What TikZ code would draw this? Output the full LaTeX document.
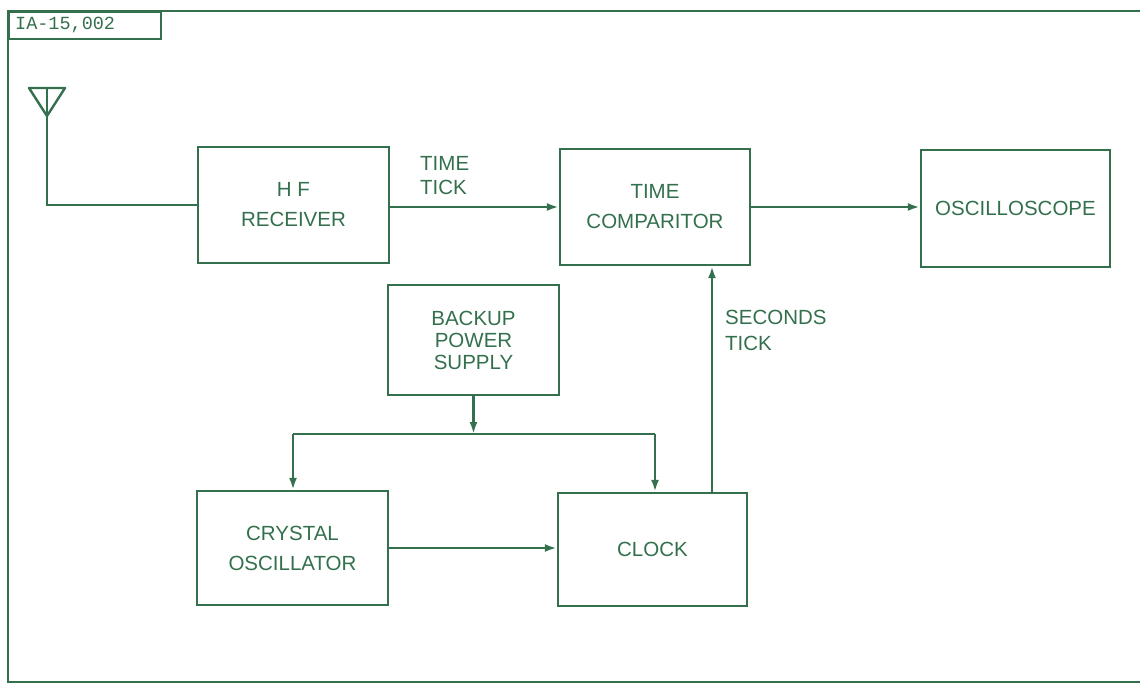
\documentclass[tikz,border=0pt]{standalone}
\usepackage{fontspec}
\setmainfont{Liberation Sans}
\newfontfamily\labelfont{Liberation Mono}
\usetikzlibrary{arrows.meta,calc}
\definecolor{ink}{RGB}{52,112,78}
\begin{document}
\begin{tikzpicture}[x=1pt,y=-1pt,
  line width=2.4pt, draw=ink, text=ink,
  blk/.style={draw=ink, line width=2.4pt, align=center, inner sep=0pt,
    font=\fontsize{20.5}{30}\selectfont},
  arr/.style={-{Latex[length=12pt,width=8pt]}, draw=ink, line width=2.4pt},
  lbl/.style={align=left, anchor=north west, inner sep=0pt, text=ink,
    font=\fontsize{20.5}{24}\selectfont}]
\useasboundingbox (0,0) rectangle (1140,684);
% frame
\draw[ink] (1140,11) -- (8,11) -- (8,682) -- (1140,682);
\node[draw=ink, line width=1.8pt, minimum width=152pt, minimum height=27pt, anchor=north west,
  inner sep=0pt, text=ink] (tag) at (8,11) {};
\node[anchor=west, inner sep=0pt, text=ink, font=\labelfont\fontsize{18.5}{20}\selectfont] (tagtext) at (14,25) {IA-15,002};
% boxes
\node[blk, minimum width=191pt, minimum height=116pt] (hf) at (293.5,205) {H F\\RECEIVER};
\node[blk, minimum width=190pt, minimum height=116pt] (tc) at (655,207) {TIME\\COMPARITOR};
\node[blk, minimum width=189pt, minimum height=117pt] (osc) at (1015.5,208.5) {OSCILLOSCOPE};
\node[blk, minimum width=171pt, minimum height=110pt, font=\fontsize{20.5}{22}\selectfont] (bps) at (473.5,340) {BACKUP\\POWER\\SUPPLY};
\node[blk, minimum width=191pt, minimum height=114pt] (co) at (292.5,548) {CRYSTAL\\OSCILLATOR};
\node[blk, minimum width=189pt, minimum height=113pt] (clk) at (652.5,549.5) {CLOCK};
% antenna
\coordinate (apex) at (47,116);
\coordinate (antL) at (29,88);
\coordinate (antR) at (65,88);
\coordinate (antM) at (47,88);
\draw[ink, line join=round] (antL) -- (antR) -- (apex) -- cycle;
\draw[ink] (antM) -- (apex);
\draw[ink] (apex) -- (apex |- hf.west) -- (hf.west);
% connectors
\draw[arr] (tc.west -| hf.east) -- (tc.west);
\node[lbl] (tt) at (419,155) {TIME\\TICK};
\draw[arr] (tc.east) -- (osc.west |- tc.east);
\coordinate (busL) at (293,434);
\coordinate (busR) at (655,434);
\draw[arr] (bps.south) -- (bps.south |- busL);
\draw[ink] (busL) -- (busR);
\draw[arr] (busL) -- (busL |- co.north);
\draw[arr] (busR) -- (busR |- clk.north);
\draw[arr] (co.east) -- (clk.west |- co.east);
\draw[arr] ([xshift=59.5pt]clk.north) -- ([xshift=59.5pt]clk.north |- tc.south);
\node[lbl, font=\fontsize{20.5}{26}\selectfont] (st) at (724,309) {SECONDS\\TICK};
\end{tikzpicture}
\end{document}
